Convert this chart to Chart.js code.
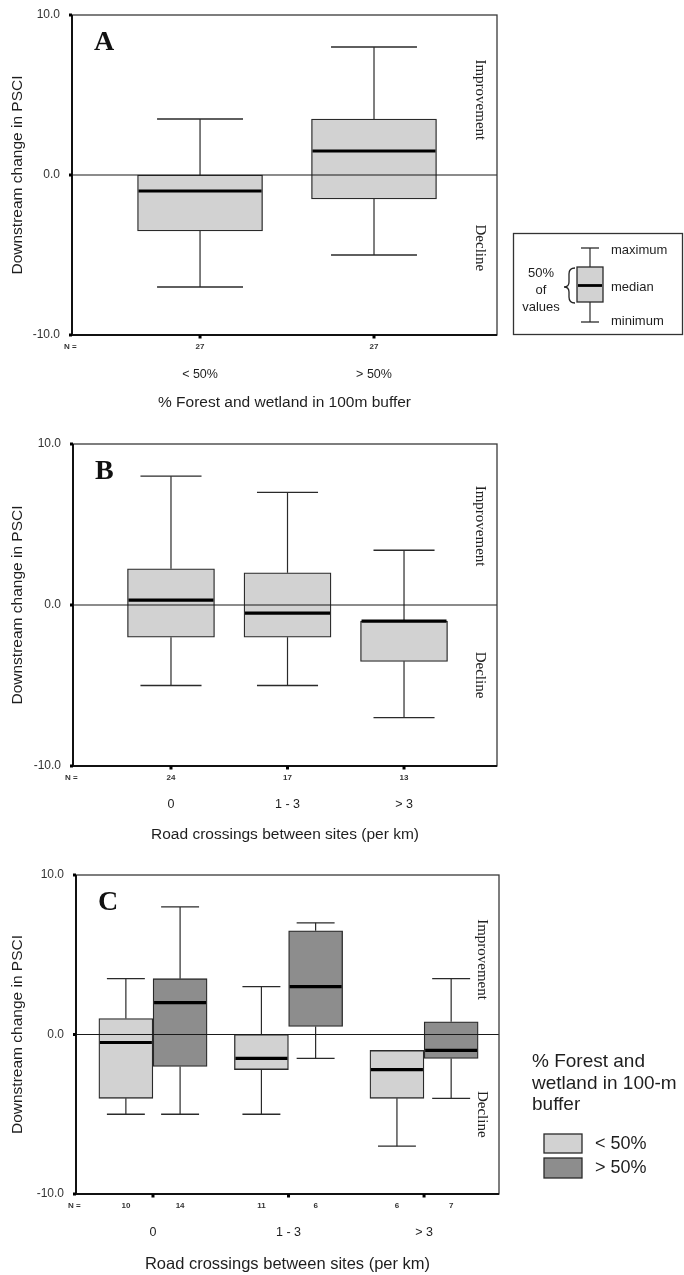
<!DOCTYPE html>
<html><head><meta charset="utf-8">
<script src="https://cdn.jsdelivr.net/npm/chart.js@4.4.1/dist/chart.umd.min.js"></script>
<style>
html,body{margin:0;padding:0;background:#fff;}
#page{position:relative;width:684px;height:1275px;overflow:hidden;background:#fff;}
canvas{position:absolute;left:0;}
</style></head><body>
<div id="page">
<canvas id="chartA" width="684" height="420" style="top:0px"></canvas>
<canvas id="chartB" width="684" height="430" style="top:420px"></canvas>
<canvas id="chartC" width="684" height="425" style="top:850px"></canvas>
</div>
<script>
// ---------------- DATA ----------------
const yTickValues = [-10, 0, 10];

// Panel A: % forest and wetland in 100 m buffer
const panelA_categories = ['< 50%', '> 50%'];
const panelA_n      = [27, 27];
const panelA_min    = [-7.0, -5.0];
const panelA_q1     = [-3.5, -1.5];
const panelA_median = [-1.0, 1.5];
const panelA_q3     = [0.0, 3.5];
const panelA_max    = [3.5, 8.0];

// Panel B: road crossings between sites (per km)
const panelB_categories = ['0', '1 - 3', '> 3'];
const panelB_n      = [24, 17, 13];
const panelB_min    = [-5.0, -5.0, -7.0];
const panelB_q1     = [-2.0, -2.0, -3.5];
const panelB_median = [0.3, -0.5, -1.0];
const panelB_q3     = [2.25, 2.0, -1.0];
const panelB_max    = [8.0, 7.0, 3.4];

// Panel C: road crossings split by forest/wetland group
const panelC_categories = ['0', '1 - 3', '> 3'];
const panelC_groups = ['< 50%', '> 50%'];
const panelC_low_n      = [10, 11, 6];
const panelC_low_min    = [-5.0, -5.0, -7.0];
const panelC_low_q1     = [-4.0, -2.2, -4.0];
const panelC_low_median = [-0.5, -1.5, -2.2];
const panelC_low_q3     = [1.0, 0.0, -1.0];
const panelC_low_max    = [3.5, 3.0, -1.0];
const panelC_high_n      = [14, 6, 7];
const panelC_high_min    = [-5.0, -1.5, -4.0];
const panelC_high_q1     = [-2.0, 0.5, -1.5];
const panelC_high_median = [2.0, 3.0, -1.0];
const panelC_high_q3     = [3.5, 6.5, 0.8];
const panelC_high_max    = [8.0, 7.0, 3.5];

// ---------------- STYLE ----------------
const SANS = "'Liberation Sans', Arial, Helvetica, sans-serif";
const SERIF = "'Liberation Serif', 'Times New Roman', Times, serif";
const LIGHT = '#d2d2d2';
const DARK = '#8d8d8d';
const EDGE = '#2a2a2a';
const INK = '#1e1e1e';

function txt(ctx, s, x, y, size, o) {
  o = o || {};
  ctx.save();
  ctx.font = (o.weight || 'normal') + ' ' + size + 'px ' + (o.family || SANS);
  ctx.fillStyle = o.color || INK;
  ctx.textAlign = o.align || 'center';
  ctx.textBaseline = o.base || 'middle';
  if (o.rot) { ctx.translate(x, y); ctx.rotate(o.rot); ctx.fillText(s, 0, 0); }
  else ctx.fillText(s, x, y);
  ctx.restore();
}
function line(ctx, x1, y1, x2, y2, w, c) {
  ctx.save(); ctx.beginPath(); ctx.moveTo(x1, y1); ctx.lineTo(x2, y2);
  ctx.lineWidth = w; ctx.strokeStyle = c || EDGE; ctx.stroke(); ctx.restore();
}

function boxDataset(label, xs, st, color, thickness) {
  return {
    label: label,
    data: xs.map((x, i) => ({ x: x, y: [st.q1[i], st.q3[i]] })),
    stats: st,
    backgroundColor: color,
    borderColor: EDGE,
    borderWidth: 1.3,
    borderSkipped: false,
    barThickness: thickness,
    grouped: false
  };
}

const boxPlotPlugin = {
  id: 'boxplot',
  afterDatasetsDraw(chart, args, L) {
    const ctx = chart.ctx, a = chart.chartArea, xs = chart.scales.x, ys = chart.scales.y;
    // whiskers and caps
    chart.data.datasets.forEach((ds, d) => {
      const meta = chart.getDatasetMeta(d);
      meta.data.forEach((el, i) => {
        const st = ds.stats;
        const cx = el.x;
        const capHalf = xs.getPixelForValue(L.capHalf) - xs.getPixelForValue(0);
        const yMax = ys.getPixelForValue(st.max[i]), yQ3 = ys.getPixelForValue(st.q3[i]);
        const yMin = ys.getPixelForValue(st.min[i]), yQ1 = ys.getPixelForValue(st.q1[i]);
        if (st.max[i] > st.q3[i]) {
          line(ctx, cx, yQ3, cx, yMax, 1.2);
          line(ctx, cx - capHalf, yMax, cx + capHalf, yMax, 1.3);
        }
        if (st.min[i] < st.q1[i]) {
          line(ctx, cx, yQ1, cx, yMin, 1.2);
          line(ctx, cx - capHalf, yMin, cx + capHalf, yMin, 1.3);
        }
      });
    });
    // zero reference line
    const y0 = ys.getPixelForValue(0);
    line(ctx, a.left, y0, a.right, y0, 1.2, '#1a1a1a');
    // medians
    chart.data.datasets.forEach((ds, d) => {
      const meta = chart.getDatasetMeta(d);
      meta.data.forEach((el, i) => {
        const ym = ys.getPixelForValue(ds.stats.median[i]);
        line(ctx, el.x - el.width / 2 + 1, ym, el.x + el.width / 2 - 1, ym, 3.2, '#000');
      });
    });
    // frame
    ctx.save();
    ctx.strokeStyle = '#3a3a3a'; ctx.lineWidth = 1.3;
    ctx.strokeRect(a.left, a.top, a.right - a.left, a.bottom - a.top);
    ctx.restore();
    line(ctx, a.left, a.top, a.left, a.bottom + 1, 2, '#111');
    line(ctx, a.left - 1, a.bottom, a.right, a.bottom, 2, '#111');
    // tick marks
    ys.ticks.forEach(t => {
      const yy = ys.getPixelForValue(t.value);
      ctx.fillStyle = '#000'; ctx.fillRect(a.left - 3, yy - 1.5, 3, 3);
    });
    xs.ticks.forEach(t => {
      const xx = xs.getPixelForValue(t.value);
      ctx.fillStyle = '#000'; ctx.fillRect(xx - 1.5, a.bottom, 3, 3.5);
    });
    // N labels
    txt(ctx, 'N =', a.left - 8, a.bottom + 12, 8, { align: 'left', weight: 'bold', color: '#333' });
    chart.data.datasets.forEach((ds, d) => {
      const meta = chart.getDatasetMeta(d);
      meta.data.forEach((el, i) => {
        txt(ctx, String(ds.stats.n[i]), el.x, a.bottom + 12, 8, { weight: 'bold', color: '#333' });
      });
    });
    // panel letter
    txt(ctx, L.letter, a.left + 22, a.top + 35, 28, { family: SERIF, weight: 'bold', align: 'left', base: 'alphabetic', color: '#111' });
    // Improvement / Decline
    txt(ctx, 'Improvement', a.right - 17, ys.getPixelForValue(L.improveY), 15, { family: SERIF, rot: Math.PI / 2, color: '#222' });
    txt(ctx, 'Decline', a.right - 17, ys.getPixelForValue(L.declineY), 15, { family: SERIF, rot: Math.PI / 2, color: '#222' });
    if (L.extra) L.extra(ctx);
  }
};

function drawLegendA(ctx) {
  ctx.save();
  ctx.strokeStyle = '#333'; ctx.lineWidth = 1.3;
  ctx.strokeRect(513.5, 233.5, 169, 101);
  ctx.restore();
  const cx = 590;
  line(ctx, cx, 248, cx, 267, 1.2);
  line(ctx, cx - 9, 248, cx + 9, 248, 1.3);
  ctx.save(); ctx.fillStyle = LIGHT; ctx.fillRect(577, 267, 26, 35);
  ctx.strokeStyle = EDGE; ctx.lineWidth = 1.3; ctx.strokeRect(577, 267, 26, 35); ctx.restore();
  line(ctx, 578, 285.5, 602, 285.5, 2.8, '#000');
  line(ctx, cx, 302, cx, 322, 1.2);
  line(ctx, cx - 9, 322, cx + 9, 322, 1.3);
  txt(ctx, 'maximum', 611, 250, 13, { align: 'left' });
  txt(ctx, 'median', 611, 287, 13, { align: 'left' });
  txt(ctx, 'minimum', 611, 321, 13, { align: 'left' });
  txt(ctx, '50%', 541, 273, 13);
  txt(ctx, 'of', 541, 290, 13);
  txt(ctx, 'values', 541, 307, 13);
  // brace
  ctx.save(); ctx.beginPath();
  ctx.moveTo(575, 268);
  ctx.quadraticCurveTo(569, 268, 569, 274);
  ctx.lineTo(569, 282);
  ctx.quadraticCurveTo(569, 287, 564, 287);
  ctx.quadraticCurveTo(569, 287, 569, 292);
  ctx.lineTo(569, 297);
  ctx.quadraticCurveTo(569, 303, 575, 303);
  ctx.lineWidth = 1.3; ctx.strokeStyle = '#222'; ctx.stroke(); ctx.restore();
}

function drawLegendC(ctx) {
  txt(ctx, '% Forest and', 532, 212, 19, { align: 'left' });
  txt(ctx, 'wetland in 100-m', 532, 233.5, 19, { align: 'left' });
  txt(ctx, 'buffer', 532, 255, 19, { align: 'left' });
  ctx.save();
  ctx.fillStyle = LIGHT; ctx.fillRect(544, 284, 38, 19);
  ctx.strokeStyle = EDGE; ctx.lineWidth = 1.3; ctx.strokeRect(544, 284, 38, 19);
  ctx.fillStyle = DARK; ctx.fillRect(544, 308, 38, 20);
  ctx.strokeRect(544, 308, 38, 20);
  ctx.restore();
  txt(ctx, panelC_groups[0], 595, 294, 18, { align: 'left' });
  txt(ctx, panelC_groups[1], 595, 318, 18, { align: 'left' });
}

function makeChart(id, datasets, cats, L) {
  const canvas = document.getElementById(id);
  const H = canvas.height;
  return new Chart(canvas, {
    type: 'bar',
    data: { datasets: datasets },
    plugins: [boxPlotPlugin],
    options: {
      responsive: false, devicePixelRatio: 1, animation: false, events: [],
      layout: { padding: { top: L.top, left: 0, right: 684 - L.right, bottom: 0 } },
      plugins: { legend: { display: false }, tooltip: { enabled: false }, boxplot: L },
      scales: {
        x: {
          type: 'linear', min: L.xMin, max: L.xMax, offset: false,
          grid: { display: false }, border: { display: false },
          afterBuildTicks: s => { s.ticks = cats.map((c, i) => ({ value: i })); },
          afterFit: s => { s.height = H - L.bottom; },
          ticks: { callback: v => cats[Math.round(v)], padding: L.tickPad, maxRotation: 0, autoSkip: false,
                   font: { family: SANS, size: 12.5 }, color: INK },
          title: { display: true, text: L.xTitle, font: { family: SANS, size: L.xTitleSize }, color: INK,
                   padding: { top: 0, bottom: L.titlePadBottom } }
        },
        y: {
          type: 'linear', min: -10, max: 10,
          grid: { display: false }, border: { display: false },
          afterBuildTicks: s => { s.ticks = yTickValues.map(v => ({ value: v })); },
          afterFit: s => { s.width = L.left; },
          ticks: { callback: v => Number(v).toFixed(1), padding: 4, font: { family: SANS, size: 12 }, color: '#333' },
          title: { display: true, text: 'Downstream change in PSCI', font: { family: SANS, size: 15.5 }, color: INK,
                   padding: { top: 8, bottom: 0 } }
        }
      }
    }
  });
}

// Panel A
makeChart('chartA', [
  boxDataset('A', panelA_categories.map((c, i) => i),
    { min: panelA_min, q1: panelA_q1, median: panelA_median, q3: panelA_q3, max: panelA_max, n: panelA_n }, LIGHT, 125)
], panelA_categories, {
  top: 15, bottom: 335, left: 72, right: 497, xMin: -0.736, xMax: 1.707,
  tickPad: 24, titlePadBottom: 8, xTitle: '% Forest and wetland in 100m buffer', xTitleSize: 15.5,
  capHalf: 0.247, letter: 'A', improveY: 4.7, declineY: -4.55, extra: drawLegendA
});

// Panel B
makeChart('chartB', [
  boxDataset('B', panelB_categories.map((c, i) => i),
    { min: panelB_min, q1: panelB_q1, median: panelB_median, q3: panelB_q3, max: panelB_max, n: panelB_n }, LIGHT, 87)
], panelB_categories, {
  top: 24, bottom: 346, left: 73, right: 497, xMin: -0.841, xMax: 2.798,
  tickPad: 23, titlePadBottom: 6, xTitle: 'Road crossings between sites (per km)', xTitleSize: 15.5,
  capHalf: 0.262, letter: 'B', improveY: 4.9, declineY: -4.35
});

// Panel C
makeChart('chartC', [
  boxDataset(panelC_groups[0], panelC_categories.map((c, i) => i - 0.2),
    { min: panelC_low_min, q1: panelC_low_q1, median: panelC_low_median, q3: panelC_low_q3, max: panelC_low_max, n: panelC_low_n }, LIGHT, 54),
  boxDataset(panelC_groups[1], panelC_categories.map((c, i) => i + 0.2),
    { min: panelC_high_min, q1: panelC_high_q1, median: panelC_high_median, q3: panelC_high_q3, max: panelC_high_max, n: panelC_high_n }, DARK, 54)
], panelC_categories, {
  top: 25, bottom: 344, left: 76, right: 499, xMin: -0.568, xMax: 2.553,
  tickPad: 23, titlePadBottom: 1, xTitle: 'Road crossings between sites (per km)', xTitleSize: 16.5,
  capHalf: 0.14, letter: 'C', improveY: 4.7, declineY: -5.0, extra: drawLegendC
});
</script>
</body></html>
